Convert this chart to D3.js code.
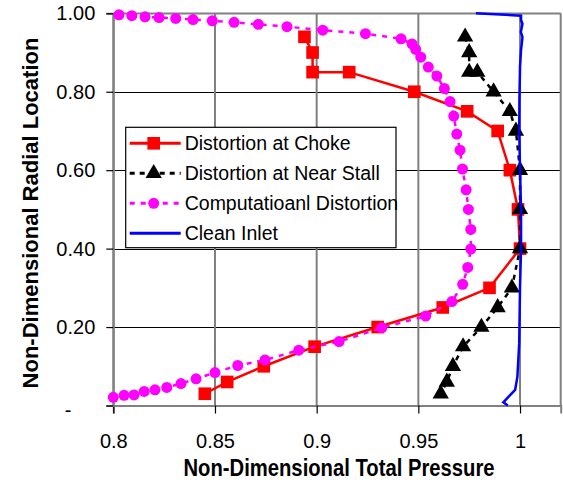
<!DOCTYPE html>
<html>
<head>
<meta charset="utf-8">
<script src="https://cdn.jsdelivr.net/npm/d3@7/dist/d3.min.js"></script>
<style>
  body { margin: 0; background: #fff; }
  text { font-family: "Liberation Sans", Arial, sans-serif; }
</style>
</head>
<body>
<svg id="chart" width="563" height="480"></svg>
<script>
// values
var chokeP = [0.894, 0.898, 0.898, 0.916, 0.948, 0.974, 0.989, 0.995, 0.999, 1.000, 0.985, 0.962, 0.930, 0.899, 0.874, 0.856, 0.845];
var chokeR = [0.94, 0.90, 0.85, 0.85, 0.80, 0.75, 0.70, 0.60, 0.50, 0.40, 0.30, 0.25, 0.20, 0.15, 0.10, 0.06, 0.03];

var stallP = [0.973, 0.975, 0.975, 0.979, 0.987, 0.995, 0.998, 1.000, 1.000, 1.000, 0.996, 0.989, 0.981, 0.972, 0.967, 0.964, 0.961];
var stallR = [0.94, 0.90, 0.85, 0.85, 0.80, 0.75, 0.70, 0.60, 0.50, 0.40, 0.30, 0.25, 0.20, 0.15, 0.10, 0.06, 0.03];

var compP = [0.8028, 0.8091, 0.8156, 0.8225, 0.8307, 0.8392, 0.8487, 0.8594, 0.8713, 0.8854, 0.9030,
             0.9240, 0.9415, 0.9469, 0.9487, 0.9512, 0.9549, 0.9591, 0.9628, 0.9656, 0.9674, 0.9689,
             0.9705, 0.9717, 0.9735, 0.9746, 0.9758, 0.9758, 0.9743, 0.9718, 0.9665, 0.9536, 0.9320,
             0.9110, 0.8912, 0.8746, 0.8612, 0.8500, 0.8407, 0.8333, 0.8263, 0.8205, 0.8152, 0.8102,
             0.8053, 0.8000];
var compR = [0.996, 0.994, 0.991, 0.989, 0.987, 0.984, 0.981, 0.977, 0.972, 0.966, 0.957,
             0.948, 0.935, 0.922, 0.908, 0.888, 0.863, 0.840, 0.808, 0.775, 0.738, 0.692,
             0.651, 0.603, 0.550, 0.500, 0.449, 0.399, 0.352, 0.309, 0.265, 0.228, 0.198,
             0.163, 0.141, 0.116, 0.102, 0.084, 0.068, 0.056, 0.046, 0.040, 0.036, 0.027,
             0.026, 0.021];

var cleanP = [0.9783, 1.0005, 1.0005, 1.0012, 1.0004, 1.0012, 1.0009, 1.0005, 1.0000, 0.9997, 0.9996,
              1.0000, 1.0005, 1.0005, 1.0000, 0.9996, 0.9987, 0.9976, 0.9943, 0.9918, 0.9940];
var cleanR = [1.000, 0.994, 0.983, 0.973, 0.952, 0.940, 0.924, 0.907, 0.864, 0.779, 0.702,
              0.600, 0.500, 0.400, 0.303, 0.159, 0.073, 0.040, 0.022, 0.008, 0.000];

var xTicks = [0.8, 0.85, 0.9, 0.95, 1];
var yTicks = [0, 0.2, 0.4, 0.6, 0.8, 1.0];

var seriesNames = ['Distortion at Choke', 'Distortion at Near Stall', 'Computatioanl Distortion', 'Clean Inlet'];

var svg = d3.select('#chart');

var x = d3.scaleLinear().domain([0.8, 1.02]).range([113.3, 560.7]);
var y = d3.scaleLinear().domain([0, 1]).range([405.5, 13.3]);

function zip(xs, ys) {
    return xs.map(function(v, i) { return [v, ys[i]]; });
}

var series = [
    {name: seriesNames[0], data: zip(chokeP, chokeR), color: '#ff0000', dash: null, width: 2.5, marker: 'square'},
    {name: seriesNames[1], data: zip(stallP, stallR), color: '#000000', dash: '5,5', width: 2.5, marker: 'triangle'},
    {name: seriesNames[2], data: zip(compP, compR), color: '#ff00ff', dash: '5,6', width: 2.5, marker: 'circle'},
    {name: seriesNames[3], data: zip(cleanP, cleanR), color: '#0000ff', dash: null, width: 2.5, marker: null}
];

var symbols = {
    square: d3.symbol().type(d3.symbolSquare).size(160),
    triangle: d3.symbol().type(d3.symbolTriangle).size(115),
    circle: d3.symbol().type(d3.symbolCircle).size(95)
};

// grid
var grid = svg.append('g').attr('class', 'grid');
grid.selectAll('.hgrid')
    .data(yTicks.slice(1))
    .enter().append('line')
    .attr('class', 'hgrid')
    .attr('x1', x.range()[0]).attr('x2', x.range()[1])
    .attr('y1', function(d) { return Math.round(y(d)) + 0.5; })
    .attr('y2', function(d) { return Math.round(y(d)) + 0.5; })
    .style('stroke', d => d === 1 ? '#808080' : '#000')
    .style('stroke-width', d => d === 1 ? 2 : 1.2);

grid.selectAll('.vgrid')
    .data(xTicks.concat([1.02]))
    .enter().append('line')
    .attr('class', 'vgrid')
    .attr('x1', function(d) { return x(d); })
    .attr('x2', function(d) { return x(d); })
    .attr('y1', y.range()[1]).attr('y2', y.range()[0])
    .style('stroke', '#808080')
    .style('stroke-width', 2);

// axes
var xAxis = svg.append('g')
    .attr('transform', 'translate(0,' + y(0) + ')')
    .call(d3.axisBottom(x).tickValues(xTicks).tickSize(8).tickPadding(20).tickFormat(String));

var yAxis = svg.append('g')
    .attr('transform', 'translate(' + x(0.8) + ',0)')
    .call(d3.axisLeft(y).tickValues(yTicks).tickSize(7).tickPadding(11)
        .tickFormat(function(d) { return d === 0 ? '-' : d3.format('.2f')(d); }));

[xAxis, yAxis].forEach(function(ax) {
    ax.select('.domain').style('stroke', '#808080').style('stroke-width', 2);
    ax.selectAll('.tick line').style('stroke', '#000').style('stroke-width', 1.2);
    ax.selectAll('.tick text').style('font-size', '20px').style('fill', '#000')
        .style('font-family', '"Liberation Sans", Arial, sans-serif');
});

yAxis.selectAll('.tick text').filter(function(d) { return d === 0; })
    .attr('x', -42).attr('dy', '0.55em');

// series
var line = d3.line().x(function(d) { return x(d[0]); }).y(function(d) { return y(d[1]); });

var plot = svg.append('g').attr('class', 'plot');
series.forEach(function(s) {
    var g = plot.append('g');
    g.append('path')
        .datum(s.data)
        .attr('d', line)
        .style('fill', 'none')
        .style('stroke', s.color)
        .style('stroke-width', s.width)
        .style('stroke-dasharray', s.dash);
    if(s.marker) {
        g.selectAll('.pt')
            .data(s.data)
            .enter().append('path')
            .attr('class', 'pt')
            .attr('transform', function(d) { return 'translate(' + x(d[0]) + ',' + y(d[1]) + ')'; })
            .attr('d', symbols[s.marker])
            .style('fill', s.color);
    }
});

// legend
var legend = svg.append('g').attr('transform', 'translate(125.7,127.3)');
legend.append('rect')
    .attr('width', 270.3).attr('height', 120.4)
    .style('fill', '#fff').style('stroke', '#000').style('stroke-width', 1.2);

var items = legend.selectAll('.item')
    .data(series)
    .enter().append('g')
    .attr('class', 'item')
    .attr('transform', function(d, i) { return 'translate(0,' + (16 + i * 30) + ')'; });

items.append('line')
    .attr('x1', 4).attr('x2', 55)
    .style('stroke', function(d) { return d.color; })
    .style('stroke-width', function(d) { return d.width + 0.5; })
    .style('stroke-dasharray', function(d) { return d.dash; });

items.filter(function(d) { return d.marker; })
    .append('path')
    .attr('transform', 'translate(28,0)')
    .attr('d', function(d) { return symbols[d.marker](); })
    .style('fill', function(d) { return d.color; });

items.append('text')
    .attr('x', 59).attr('dy', '0.35em')
    .style('font-size', '19.5px')
    .text(function(d) { return d.name; });

// axis titles (the reference type is a little condensed)
svg.append('text')
    .attr('transform', 'translate(339,476) scale(0.88,1)')
    .attr('text-anchor', 'middle')
    .style('font-size', '23px').style('font-weight', 'bold')
    .text('Non-Dimensional Total Pressure');

svg.append('text')
    .attr('transform', 'translate(38,213) rotate(-90)')
    .attr('text-anchor', 'middle')
    .style('font-size', '22px').style('font-weight', 'bold')
    .text('Non-Dimensional Radial Location');
</script>
</body>
</html>
